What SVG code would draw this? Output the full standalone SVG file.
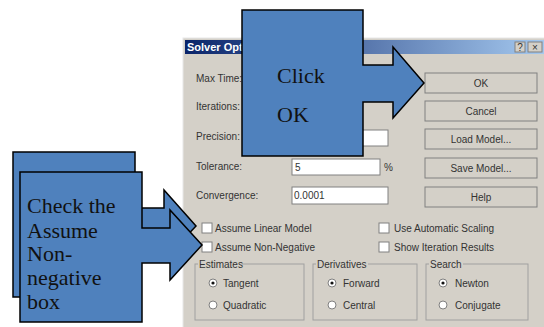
<svg xmlns="http://www.w3.org/2000/svg" width="544" height="327" viewBox="0 0 544 327">
<defs>
<linearGradient id="tb" x1="0" y1="0" x2="1" y2="0">
<stop offset="0" stop-color="#0a246a"/>
<stop offset="1" stop-color="#a6caf0"/>
</linearGradient>
<style>
.lbl{font-family:"Liberation Sans",Arial,sans-serif;font-size:10px;fill:#333333}
.btn{fill:#d4d0c8;stroke:#808080;stroke-width:1}
.btxt{font-family:"Liberation Sans",Arial,sans-serif;font-size:10px;fill:#333333;text-anchor:middle}
.tbox{fill:#ffffff;stroke:#808080;stroke-width:1}
.chk{fill:#ffffff;stroke:#808080;stroke-width:1}
.grp{fill:none;stroke:#a0a0a0;stroke-width:1}
.radio{fill:#ffffff;stroke:#808080;stroke-width:1}
.call{fill:#4f81bd;stroke:#000000;stroke-width:1.5;stroke-linejoin:miter}
.ctxt{font-family:"Liberation Serif","Times New Roman",serif;font-size:22px;fill:#111111}
</style>
</defs>
<rect x="0" y="0" width="544" height="327" fill="#ffffff"/>

<g id="dialog">
<rect x="183" y="38" width="370" height="300" fill="#d4d0c8" stroke="#e8e8e8"/>
<rect x="185" y="40" width="362" height="14" fill="url(#tb)"/>
<text x="187" y="51" font-family="'Liberation Sans',Arial,sans-serif" font-size="11" font-weight="bold" fill="#ffffff">Solver Options</text>
<rect x="515" y="42" width="10" height="10" fill="#d4d0c8" stroke="#808080"/>
<text x="520" y="51" class="btxt" font-size="9">?</text>
<rect x="528" y="42" width="14" height="10" fill="#d4d0c8" stroke="#808080"/>
<text x="535" y="51" class="btxt" font-size="9">×</text>

<text x="196" y="82" class="lbl">Max Time:</text>
<text x="196" y="110" class="lbl">Iterations:</text>
<text x="196" y="140" class="lbl">Precision:</text>
<text x="196" y="170" class="lbl">Tolerance:</text>
<text x="196" y="199" class="lbl">Convergence:</text>

<rect x="292" y="130" width="96" height="16" class="tbox"/>
<rect x="292" y="159" width="88" height="16" class="tbox"/>
<text x="295" y="171" class="lbl">5</text>
<text x="384" y="171" class="lbl">%</text>
<rect x="292" y="187" width="96" height="17" class="tbox"/>
<text x="294" y="199" class="lbl">0.0001</text>

<rect x="425" y="73" width="112" height="20" class="btn" stroke="#202020" stroke-width="1.5"/>
<text x="481" y="87" class="btxt">OK</text>
<rect x="425" y="101" width="112" height="20" class="btn"/>
<text x="481" y="115" class="btxt">Cancel</text>
<rect x="425" y="129" width="112" height="20" class="btn"/>
<text x="481" y="143" class="btxt">Load Model...</text>
<rect x="425" y="158" width="112" height="20" class="btn"/>
<text x="481" y="172" class="btxt">Save Model...</text>
<rect x="425" y="187" width="112" height="20" class="btn"/>
<text x="481" y="201" class="btxt">Help</text>

<rect x="202" y="223" width="10" height="10" class="chk"/>
<text x="215" y="232" class="lbl">Assume Linear Model</text>
<rect x="202" y="242" width="10" height="10" class="chk"/>
<text x="215" y="251" class="lbl">Assume Non-Negative</text>
<rect x="379" y="223" width="10" height="10" class="chk"/>
<text x="394" y="232" class="lbl">Use Automatic Scaling</text>
<rect x="379" y="242" width="10" height="10" class="chk"/>
<text x="394" y="251" class="lbl">Show Iteration Results</text>

<rect x="195" y="264" width="109" height="56" class="grp"/>
<rect x="198" y="259" width="44" height="10" fill="#d4d0c8"/>
<text x="199" y="268" class="lbl">Estimates</text>
<circle cx="213" cy="283" r="4" class="radio"/>
<circle cx="213" cy="283" r="1.6" fill="#111"/>
<text x="223" y="287" class="lbl">Tangent</text>
<circle cx="213" cy="305" r="4" class="radio"/>
<text x="223" y="309" class="lbl">Quadratic</text>

<rect x="313" y="264" width="104" height="56" class="grp"/>
<rect x="316" y="259" width="52" height="10" fill="#d4d0c8"/>
<text x="317" y="268" class="lbl">Derivatives</text>
<circle cx="332" cy="283" r="4" class="radio"/>
<circle cx="332" cy="283" r="1.6" fill="#111"/>
<text x="343" y="287" class="lbl">Forward</text>
<circle cx="332" cy="305" r="4" class="radio"/>
<text x="343" y="309" class="lbl">Central</text>

<rect x="426" y="264" width="102" height="56" class="grp"/>
<rect x="429" y="259" width="34" height="10" fill="#d4d0c8"/>
<text x="430" y="268" class="lbl">Search</text>
<circle cx="443" cy="283" r="4" class="radio"/>
<circle cx="443" cy="283" r="1.6" fill="#111"/>
<text x="455" y="287" class="lbl">Newton</text>
<circle cx="443" cy="305" r="4" class="radio"/>
<text x="455" y="309" class="lbl">Conjugate</text>
</g>

<g id="connectors"></g>

<g id="callout-click-ok">
<path class="call" d="M242,10 L363,10 L363,65 L393,65 L393,47 L424,83 L393,118 L393,102 L363,102 L363,156 L242,156 Z"/>
<text x="277" y="83" class="ctxt">Click</text>
<text x="277" y="122" class="ctxt">OK</text>
</g>

<g id="callout-back">
<path class="call" d="M13,152 L135,152 L135,208 L164,208 L164,190 L196,226 L164,260 L164,243 L135,243 L135,297 L13,297 Z"/>
</g>

<g id="callout-check">
<path class="call" d="M20,172 L142,172 L142,228 L170,228 L170,210 L202,245 L170,280 L170,263 L142,263 L142,322 L20,322 Z"/>
<text x="27" y="213" class="ctxt">Check the</text>
<text x="27" y="238" class="ctxt">Assume</text>
<text x="27" y="261" class="ctxt">Non-</text>
<text x="27" y="285" class="ctxt">negative</text>
<text x="27" y="309" class="ctxt">box</text>
</g>
</svg>
